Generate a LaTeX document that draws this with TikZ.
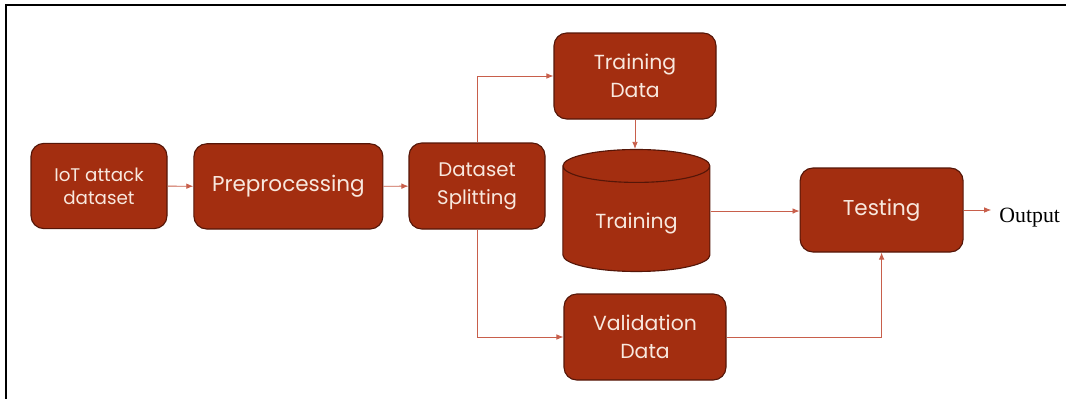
\documentclass[tikz,border=0pt]{standalone}
\usepackage{fontspec}
\setmainfont{Liberation Serif}
\newfontfamily\boxfont{Poppins}
\usetikzlibrary{arrows.meta,shapes.geometric}
\definecolor{boxfill}{RGB}{163,46,16}
\definecolor{boxline}{RGB}{85,22,8}
\definecolor{linkred}{RGB}{200,95,75}
\definecolor{boxtext}{RGB}{248,232,222}
\begin{document}
\begin{tikzpicture}[
    block/.style={draw=boxline, line width=0.8pt, fill=boxfill, rounded corners=0.32cm,
        text=boxtext, font=\boxfont\fontsize{13}{16.5}\selectfont, align=center,
        minimum width=3.4cm, minimum height=2.13cm, inner sep=0pt},
    link/.style={draw=linkred, line width=0.6pt, -{Latex[length=5pt,width=4pt]}}
]
    \useasboundingbox (0,0) rectangle (26.65,-9.95);
    \draw[line width=1.6pt] (0.15,-10.5) -- (0.15,-0.125) -- (27,-0.125);

    \node[block] (iot) at (2.475,-4.65) {IoT attack\\dataset};
    \node[block, minimum width=4.725cm, font=\boxfont\fontsize{15.3}{17}\selectfont] (prep) at (7.21,-4.66) {Preprocessing};
    \node[block, minimum height=2.15cm, font=\boxfont\fontsize{14}{20}\selectfont] (split) at (11.925,-4.65) {Dataset\\Splitting};
    \node[block, minimum width=4.05cm, minimum height=2.15cm, font=\boxfont\fontsize{14.5}{20}\selectfont] (tdata) at (15.875,-1.9) {Training\\Data};
    \node[draw=boxline, line width=0.8pt, fill=boxfill, text=boxtext, font=\boxfont\fontsize{14.5}{17}\selectfont,
        shape=cylinder, shape border rotate=90, aspect=0.4, minimum width=3.675cm, minimum height=3.05cm, inner sep=0pt]
        (train) at (15.91,-5.475) {\raisebox{-0.6cm}{Training}};
    \node[block, minimum width=4.05cm, minimum height=2.15cm, font=\boxfont\fontsize{14.5}{20}\selectfont] (vdata) at (16.125,-8.425) {Validation\\Data};
    \node[block, minimum width=4.075cm, minimum height=2.1cm, font=\boxfont\fontsize{15.3}{17}\selectfont] (test) at (22.04,-5.25) {Testing};
    \node[anchor=west, font=\fontsize{15.5}{17}\selectfont, inner sep=0.2cm] (out) at (24.78,-5.45) {Output};

    \draw[link] (iot) -- (prep);
    \draw[link] (prep) -- (split);
    \draw[link] (split.north) |- (tdata.west);
    \draw[link] (split.south) |- (vdata.west);
    \draw[link] (tdata.south) -- (tdata.south |- train.north);
    \draw[link] ([yshift=0.2cm]train.east) -- ([yshift=0.2cm]train.east -| test.west);
    \draw[link] (vdata.east) -| (test.south);
    \draw[link] (test.east) -- (test.east -| out.west);
\end{tikzpicture}
\end{document}
